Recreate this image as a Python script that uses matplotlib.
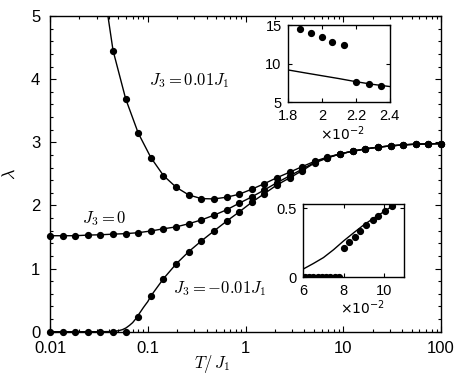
import matplotlib
matplotlib.use("Agg")
import matplotlib.pyplot as plt
from matplotlib.ticker import MultipleLocator, FixedLocator, FuncFormatter, LogLocator, NullFormatter

plt.rcParams['font.family'] = ['Liberation Sans', 'DejaVu Sans']
plt.rcParams['mathtext.fontset'] = 'cm'

# temperatures of the simulation points (T/J1)
T = [0.01, 0.01346, 0.01811, 0.02438, 0.03281, 0.04416, 0.05944, 0.08, 0.1077,
     0.1449, 0.1951, 0.2626, 0.3534, 0.4757, 0.6403, 0.8618, 1.16, 1.561, 2.101,
     2.828, 3.807, 5.124, 6.897, 9.283, 12.49, 16.82, 22.63, 30.46, 41.0, 55.19,
     74.28, 100]

# J3 = 0.01 J1 (points start at T[5], line starts at T[4] off-scale)
lam_pos = [4.453, 3.688, 3.144, 2.757, 2.472, 2.288, 2.166, 2.108, 2.103, 2.13,
           2.177, 2.257, 2.345, 2.44, 2.526, 2.615, 2.70, 2.765, 2.816, 2.859,
           2.895, 2.922, 2.943, 2.959, 2.970, 2.975, 2.979]
lam_pos_line = [5.8] + lam_pos

# J3 = 0
lam_zero = [1.52, 1.52, 1.52, 1.53, 1.535, 1.545, 1.553, 1.568, 1.595, 1.63,
            1.66, 1.71, 1.77, 1.845, 1.93, 2.035, 2.135, 2.246, 2.361, 2.468,
            2.575, 2.685, 2.757, 2.816, 2.859, 2.895, 2.922, 2.943, 2.959,
            2.970, 2.975, 2.979]

# J3 = -0.01 J1
lam_neg = [0, 0, 0, 0, 0, 0, 0, 0.228, 0.566, 0.84, 1.073, 1.268, 1.437, 1.595,
           1.75, 1.897, 2.05, 2.187, 2.325, 2.436, 2.551, 2.675, 2.752, 2.816,
           2.859, 2.895, 2.922, 2.943, 2.959, 2.970, 2.975, 2.979]
neg_line_T = [0.01, 0.03, 0.04, 0.045, 0.05, 0.055, 0.06, 0.065, 0.07, 0.075,
              0.08, 0.085, 0.09, 0.095, 0.1] + T[8:]
neg_line = [0, 0, 0.002, 0.006, 0.015, 0.032, 0.06, 0.1, 0.143, 0.2, 0.264,
            0.323, 0.38, 0.43, 0.476] + lam_neg[8:]

# inset 1 (x in units of 1e-2)
in1_T = [1.87, 1.935, 2.0, 2.06, 2.13, 2.2, 2.275, 2.35]
in1_lam = [14.45, 13.95, 13.45, 12.85, 12.45, 7.6, 7.37, 7.08]
in1_line_T = [1.8, 1.9, 2.0, 2.1, 2.2, 2.3, 2.4]
in1_line = [9.2, 8.82, 8.45, 8.08, 7.68, 7.33, 7.05]

# inset 2 (x in units of 1e-2)
in2_T = [6.08, 6.29, 6.50, 6.71, 6.92, 7.13, 7.34, 7.55, 7.76,
         8.0, 8.28, 8.54, 8.81, 9.11, 9.43, 9.71, 10.07, 10.38]
in2_lam = [0, 0, 0, 0, 0, 0, 0, 0, 0,
           0.212, 0.257, 0.295, 0.334, 0.379, 0.412, 0.448, 0.484, 0.515]
in2_line_T = [6.0, 6.5, 7.0, 7.5, 8.0, 8.5, 9.0, 9.5, 10.0, 10.5, 11.0]
in2_line = [0.06, 0.1, 0.143, 0.2, 0.264, 0.323, 0.38, 0.43, 0.476, 0.525, 0.57]

ms = 4.2
lw = 1.0

fig = plt.figure(figsize=(4.63, 3.75), dpi=100)
ax = fig.add_axes([0.108, 0.1155, 0.8445, 0.8418])

ax.plot(T[4:], lam_pos_line, 'k-', lw=lw)
ax.plot(T, lam_zero, 'k-', lw=lw)
ax.plot(neg_line_T, neg_line, 'k-', lw=lw)
ax.plot(T[5:], lam_pos, 'ko', ms=ms, clip_on=False)
ax.plot(T, lam_zero, 'ko', ms=ms, clip_on=False)
ax.plot(T, lam_neg, 'ko', ms=ms, clip_on=False)

ax.set_xscale('log')
ax.set_xlim(0.01, 100)
ax.set_ylim(0, 5)
ax.xaxis.set_major_locator(LogLocator(base=10))
ax.xaxis.set_major_formatter(FuncFormatter(lambda v, p: f'{v:g}'))
ax.xaxis.set_minor_formatter(NullFormatter())
ax.yaxis.set_major_locator(MultipleLocator(1))
ax.yaxis.set_minor_locator(MultipleLocator(0.2))
ax.tick_params(which='both', direction='in', top=True, right=True, labelsize=12, width=0.8)
ax.tick_params(which='major', length=4.5, pad=7)
ax.tick_params(which='minor', length=2.2)
for s in ax.spines.values():
    s.set_linewidth(1.0)

ax.set_xlabel(r'$T/\,J_1$', fontsize=12)
ax.xaxis.set_label_coords(0.415, -0.068)
ax.set_ylabel(r'$\lambda$', fontsize=13)
ax.yaxis.set_label_coords(-0.08, 0.5)

ax.text(0.357, 0.796, r'$J_3 = 0.01 J_1$', transform=ax.transAxes, fontsize=12, ha='center', va='center')
ax.text(0.138, 0.357, r'$J_3 = 0$', transform=ax.transAxes, fontsize=12, ha='center', va='center')
ax.text(0.435, 0.135, r'$J_3 = -0.01 J_1$', transform=ax.transAxes, fontsize=12, ha='center', va='center')

def style_inset(a):
    a.tick_params(which='both', direction='in', top=True, right=True, labelsize=10.5, length=3, pad=4.5, width=0.8)
    for s in a.spines.values():
        s.set_linewidth(1.0)

# inset 1
ax1 = fig.add_axes([0.622, 0.727, 0.220, 0.206])
ax1.plot(in1_line_T, in1_line, 'k-', lw=lw)
ax1.plot(in1_T, in1_lam, 'ko', ms=ms)
ax1.set_xlim(1.8, 2.4)
ax1.set_ylim(5, 15)
ax1.xaxis.set_major_locator(FixedLocator([1.8, 2.0, 2.2, 2.4]))
ax1.xaxis.set_major_formatter(FuncFormatter(lambda v, p: f'{v:g}'))
ax1.yaxis.set_major_locator(FixedLocator([5, 10, 15]))
style_inset(ax1)
ax1.text(0.53, -0.41, r'$\times 10^{-2}$', transform=ax1.transAxes, fontsize=10,
         ha='center', va='center', math_fontfamily='dejavusans')

# inset 2
ax2 = fig.add_axes([0.655, 0.2605, 0.218, 0.195])
ax2.plot(in2_line_T, in2_line, 'k-', lw=lw)
ax2.plot(in2_T, in2_lam, 'ko', ms=ms)
ax2.set_xlim(6, 11)
ax2.set_ylim(0, 0.53)
ax2.xaxis.set_major_locator(FixedLocator([6, 8, 10]))
ax2.yaxis.set_major_locator(FixedLocator([0, 0.5]))
ax2.yaxis.set_major_formatter(FuncFormatter(lambda v, p: f'{v:g}'))
style_inset(ax2)
ax2.text(0.59, -0.41, r'$\times 10^{-2}$', transform=ax2.transAxes, fontsize=10,
         ha='center', va='center', math_fontfamily='dejavusans')

fig.savefig('out.png', dpi=100)
